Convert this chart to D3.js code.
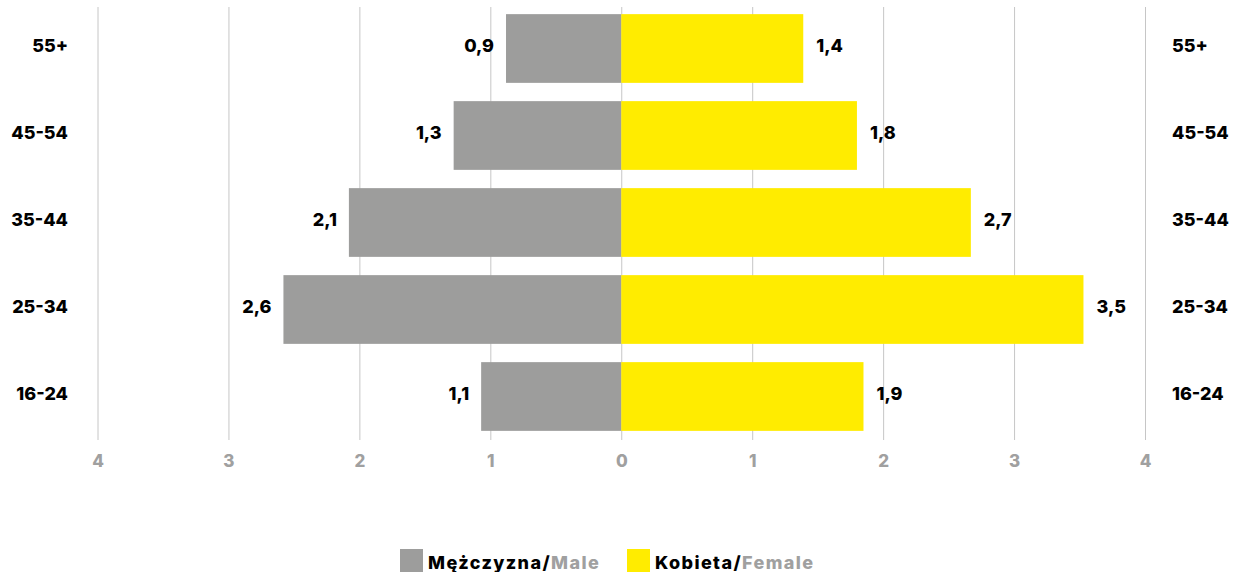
<!DOCTYPE html>
<html>
<head>
<meta charset="utf-8">
<script src="https://cdn.jsdelivr.net/npm/d3@7"></script>
<style>
  body { margin: 0; background: #fff; }
  svg text { font-family: Inter, "DejaVu Sans", sans-serif; font-weight: 800; }
</style>
</head>
<body>
<div id="chart"></div>
<script>
// age groups, top to bottom
var groups = ["55+", "45-54", "35-44", "25-34", "16-24"];
var male = [0.88, 1.28, 2.08, 2.58, 1.07];
var female = [1.39, 1.80, 2.67, 3.53, 1.85];
var maleLabels = ["0,9", "1,3", "2,1", "2,6", "1,1"];
var femaleLabels = ["1,4", "1,8", "2,7", "3,5", "1,9"];
var ticks = [-4, -3, -2, -1, 0, 1, 2, 3, 4];
var legendItems = [
  {pl: "Mężczyzna/", en: "Male", color: "#9d9d9c"},
  {pl: "Kobieta/", en: "Female", color: "#ffec00"}
];

var width = 1234, height = 572;

var x = d3.scaleLinear()
          .domain([-4, 4])
          .range([97.5, 1145]);

var y = d3.scaleBand()
          .domain(groups)
          .range([5, 440])
          .paddingInner(0.21)
          .paddingOuter(0.105);

var svg = d3.select("#chart")
            .append("svg")
            .attr("width", width)
            .attr("height", height);

// grid lines (top to bottom, ticks poke out below the bars)
var grid = d3.axisBottom(x)
             .tickValues(ticks)
             .tickSize(-433)
             .tickFormat("");
svg.append("g")
   .attr("transform", "translate(0,440)")
   .call(grid)
   .call(function(g){
     g.select(".domain").remove();
     g.selectAll("line").attr("stroke", "#c6c6c6").attr("stroke-width", 1);
   });

// bottom axis labels
var xAxis = d3.axisBottom(x)
              .tickValues(ticks)
              .tickSize(0)
              .tickPadding(0)
              .tickFormat(function(d){ return Math.abs(d); });
svg.append("g")
   .attr("transform", "translate(0,455)")
   .call(xAxis)
   .call(function(g){
     g.select(".domain").remove();
     g.selectAll("text")
      .attr("fill", "#a0a0a0")
      .attr("font-size", 17)
      .attr("dy", "0.71em")
      .style("font-family", "Inter, sans-serif");
   });

// male bars go left
svg.selectAll(".male")
   .data(groups)
   .enter()
   .append("rect")
   .attr("class", "male")
   .attr("x", function(d, i){ return x(-male[i]); })
   .attr("y", function(d){ return y(d); })
   .attr("width", function(d, i){ return x(0) - x(-male[i]); })
   .attr("height", y.bandwidth())
   .attr("fill", legendItems[0].color);

// female bars go right
svg.selectAll(".female")
   .data(groups)
   .enter()
   .append("rect")
   .attr("class", "female")
   .attr("x", x(0))
   .attr("y", function(d){ return y(d); })
   .attr("width", function(d, i){ return x(female[i]) - x(0); })
   .attr("height", y.bandwidth())
   .attr("fill", legendItems[1].color);

// value labels
svg.selectAll(".mlabel")
   .data(groups)
   .enter()
   .append("text")
   .attr("x", function(d, i){ return x(-male[i]) - 12; })
   .attr("y", function(d){ return y(d) + y.bandwidth() / 2; })
   .attr("dy", "0.2em")
   .attr("text-anchor", "end")
   .attr("font-size", 18)
   .text(function(d, i){ return maleLabels[i]; });

svg.selectAll(".flabel")
   .data(groups)
   .enter()
   .append("text")
   .attr("x", function(d, i){ return x(female[i]) + 13; })
   .attr("y", function(d){ return y(d) + y.bandwidth() / 2; })
   .attr("dy", "0.2em")
   .attr("font-size", 18)
   .text(function(d, i){ return femaleLabels[i]; });

// category labels both sides
svg.selectAll(".catL")
   .data(groups)
   .enter()
   .append("text")
   .attr("x", 68)
   .attr("y", function(d){ return y(d) + y.bandwidth() / 2; })
   .attr("dy", "0.2em")
   .attr("text-anchor", "end")
   .attr("font-size", 18)
   .text(function(d){ return d; });

svg.selectAll(".catR")
   .data(groups)
   .enter()
   .append("text")
   .attr("x", 1172)
   .attr("y", function(d){ return y(d) + y.bandwidth() / 2; })
   .attr("dy", "0.2em")
   .attr("font-size", 18)
   .text(function(d){ return d; });

// legend
var legendX = [400, 627];
var legend = svg.selectAll(".legend")
                .data(legendItems)
                .enter()
                .append("g")
                .attr("transform", function(d, i){ return "translate(" + legendX[i] + ",549)"; });
legend.append("rect")
      .attr("width", 23)
      .attr("height", 23)
      .attr("fill", function(d){ return d.color; });
var lt = legend.append("text")
      .attr("x", 28)
      .attr("y", 20)
      .attr("font-size", 18)
      .attr("letter-spacing", 1.4);
lt.append("tspan").attr("fill", "#000").text(function(d){ return d.pl; });
lt.append("tspan").attr("fill", "#a0a0a0").text(function(d){ return d.en; });
</script>
</body>
</html>
